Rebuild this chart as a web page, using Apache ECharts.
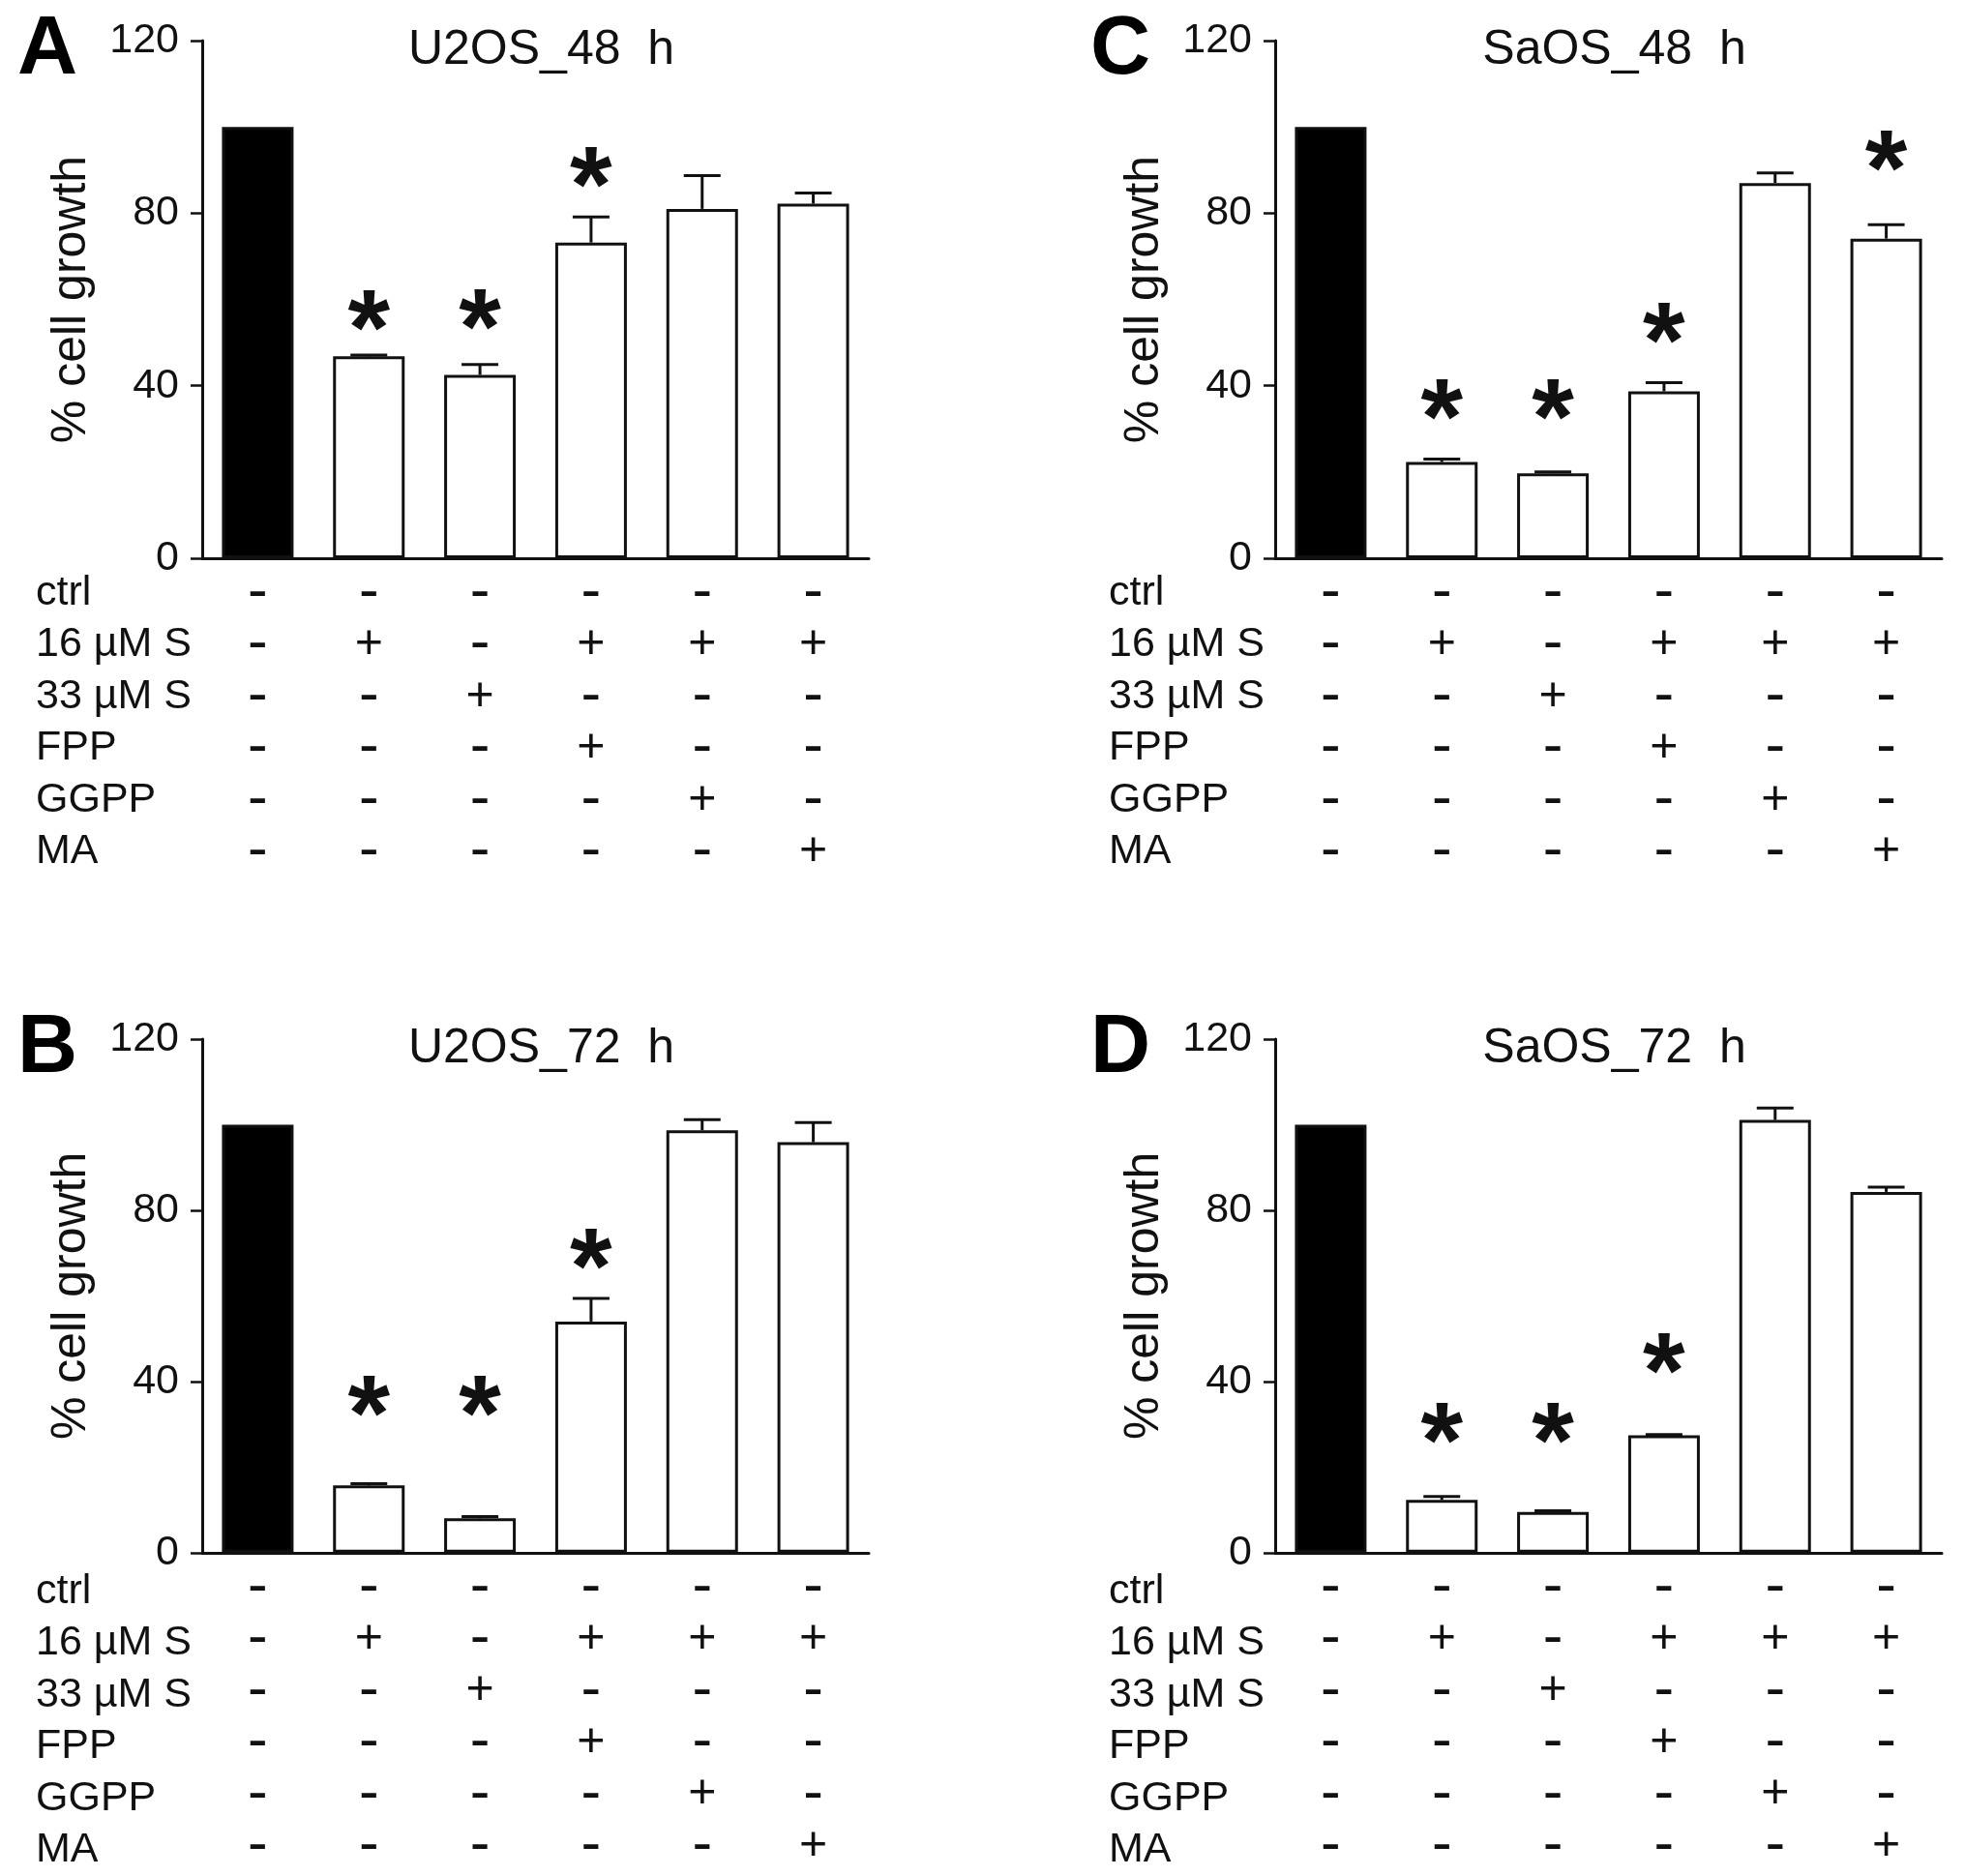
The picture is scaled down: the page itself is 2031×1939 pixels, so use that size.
<!DOCTYPE html>
<html>
<head>
<meta charset="utf-8">
<script src="https://cdn.jsdelivr.net/npm/echarts@6/dist/echarts.min.js"></script>
<style>
html,body{margin:0;padding:0;background:#fff;}
#chart{width:2031px;height:1939px;}
</style>
</head>
<body>
<div id="chart"></div>
<script>
// groups along the x axis
const categories = ['ctrl', 'S16', 'S33', 'S16+FPP', 'S16+GGPP', 'S16+MA'];
// treatment table rows and signs (one column per group)
const rowNames = ['ctrl', '16 µM S', '33 µM S', 'FPP', 'GGPP', 'MA'];
const treatmentSigns = [
    ['-', '-', '-', '-', '-', '-'],
    ['-', '+', '-', '-', '-', '-'],
    ['-', '-', '+', '-', '-', '-'],
    ['-', '+', '-', '+', '-', '-'],
    ['-', '+', '-', '-', '+', '-'],
    ['-', '+', '-', '-', '-', '+']
];
const yTicks = [0, 40, 80, 120];

// % cell growth, SEM, and where the significance star sits
const u2os48 = [100, 46.8, 42.5, 73.2, 81.0, 82.2];
const u2os48Err = [0, 0.3, 2.4, 5.9, 7.7, 2.5];
const u2os48Star = [null, 57.3, 57.6, 90.6, null, null];

const u2os72 = [100, 15.7, 8.0, 54.0, 98.7, 95.9];
const u2os72Err = [0, 0.4, 0.4, 5.4, 2.5, 4.6];
const u2os72Star = [null, 36.4, 36.4, 70.8, null, null];

const saos48 = [100, 22.3, 19.7, 38.7, 87.0, 74.1];
const saos48Err = [0, 0.7, 0.3, 2.0, 2.3, 3.2];
const saos48Star = [null, 36.7, 36.7, 54.3, null, 94.3];

const saos72 = [100, 12.3, 9.5, 27.4, 101.1, 84.3];
const saos72Err = [0, 0.8, 0.3, 0.2, 2.8, 1.1];
const saos72Star = [null, 30.1, 30.1, 46.5, null, null];

const panels = [
    {letter: 'A', title: 'U2OS_48  h', values: u2os48, err: u2os48Err, stars: u2os48Star, left: 209, top: 42},
    {letter: 'B', title: 'U2OS_72  h', values: u2os72, err: u2os72Err, stars: u2os72Star, left: 209, top: 1074},
    {letter: 'C', title: 'SaOS_48  h', values: saos48, err: saos48Err, stars: saos48Star, left: 1318, top: 42},
    {letter: 'D', title: 'SaOS_72  h', values: saos72, err: saos72Err, stars: saos72Star, left: 1318, top: 1074}
];

const FONT = 'Liberation Sans, Arial, sans-serif';
const INK = '#111';
const GRID_W = 689;
const GRID_H = 535;
const ROW_H = 53.5;
const LABEL_MARGIN = 9;

const chart = echarts.init(document.getElementById('chart'), null, {renderer: 'canvas'});

const grids = [], xAxes = [], yAxes = [], series = [], graphics = [];

panels.forEach((p, k) => {

    grids.push({left: p.left, top: p.top, width: GRID_W, height: GRID_H, containLabel: false});

    xAxes.push({
        type: 'category',
        gridIndex: k,
        data: categories,
        axisLine: {lineStyle: {color: INK, width: 3}},
        axisTick: {alignWithLabel: true, length: 14, lineStyle: {color: INK, width: 2.5}},
        axisLabel: {
            interval: 0,
            margin: LABEL_MARGIN,
            formatter: (v, i) => treatmentSigns[i].map(s => s === '+' ? '{p|+}' : '{m|-}').join('\n'),
            rich: {
                p: {fontFamily: FONT, fontSize: 50, color: INK, lineHeight: ROW_H},
                m: {fontFamily: FONT, fontSize: 62, color: INK, lineHeight: ROW_H}
            }
        }
    });

    yAxes.push({
        type: 'value',
        gridIndex: k,
        min: 0,
        max: 120,
        interval: 40,
        name: '% cell growth',
        nameLocation: 'middle',
        nameRotate: 90,
        nameGap: 110,
        nameTextStyle: {fontFamily: FONT, fontSize: 50, color: INK},
        axisLine: {show: true, lineStyle: {color: INK, width: 3}},
        axisTick: {show: true, length: 12, lineStyle: {color: INK, width: 2.5}},
        splitLine: {show: false},
        axisLabel: {
            margin: 24,
            fontFamily: FONT,
            fontSize: 43,
            color: INK,
            formatter: v => yTicks.includes(v) ? String(v) : ''
        }
    });

    series.push({
        type: 'bar',
        xAxisIndex: k,
        yAxisIndex: k,
        data: p.values,
        barWidth: 74,
        itemStyle: {
            color: params => params.dataIndex === 0 ? '#000' : '#fff',
            borderColor: INK,
            borderWidth: 3
        },
        z: 2
    });

    series.push({
        type: 'custom',
        xAxisIndex: k,
        yAxisIndex: k,
        data: p.values.map((v, i) => [i, v, p.err[i]]),
        renderItem: (params, api) => {
            const e = api.value(2);
            if (!e) return null;
            const base = api.coord([api.value(0), api.value(1)]);
            const tip = api.coord([api.value(0), api.value(1) + e]);
            const st = {stroke: INK, lineWidth: 3};
            return {
                type: 'group',
                children: [
                    {type: 'line', shape: {x1: base[0], y1: base[1], x2: tip[0], y2: tip[1]}, style: st},
                    {type: 'line', shape: {x1: tip[0] - 19, y1: tip[1], x2: tip[0] + 19, y2: tip[1]}, style: st}
                ]
            };
        },
        clip: false,
        z: 3
    });

    series.push({
        type: 'custom',
        xAxisIndex: k,
        yAxisIndex: k,
        data: p.stars.map((s, i) => [i, s]).filter(d => d[1] != null),
        renderItem: (params, api) => {
            const pt = api.coord([api.value(0), api.value(1)]);
            const fs = 112;
            return {
                type: 'text',
                x: pt[0],
                y: pt[1] + fs * 0.22,
                style: {
                    text: '*',
                    fontFamily: FONT,
                    fontWeight: 'bold',
                    fontSize: fs,
                    fill: INK,
                    align: 'center',
                    verticalAlign: 'middle'
                }
            };
        },
        clip: false,
        z: 4
    });

    // panel letter
    graphics.push({
        type: 'text',
        x: p.left - 191,
        y: p.top + 10,
        style: {text: p.letter, fontFamily: FONT, fontWeight: 'bold', fontSize: 86, fill: '#000', verticalAlign: 'middle'}
    });

    // panel title
    graphics.push({
        type: 'text',
        x: p.left + GRID_W / 2 + 6,
        y: p.top + 10,
        style: {text: p.title, fontFamily: FONT, fontSize: 50, fill: INK, align: 'center', verticalAlign: 'middle'}
    });

    // treatment row names
    graphics.push({
        type: 'text',
        x: p.left - 172,
        y: p.top + GRID_H + LABEL_MARGIN,
        style: {
            text: rowNames.join('\n'),
            fontFamily: FONT,
            fontSize: 43,
            lineHeight: ROW_H,
            fill: INK,
            verticalAlign: 'top'
        }
    });
});

chart.setOption({
    animation: false,
    backgroundColor: '#fff',
    grid: grids,
    xAxis: xAxes,
    yAxis: yAxes,
    series: series,
    graphic: graphics
});

window.addEventListener('resize', () => chart.resize());
</script>
</body>
</html>
